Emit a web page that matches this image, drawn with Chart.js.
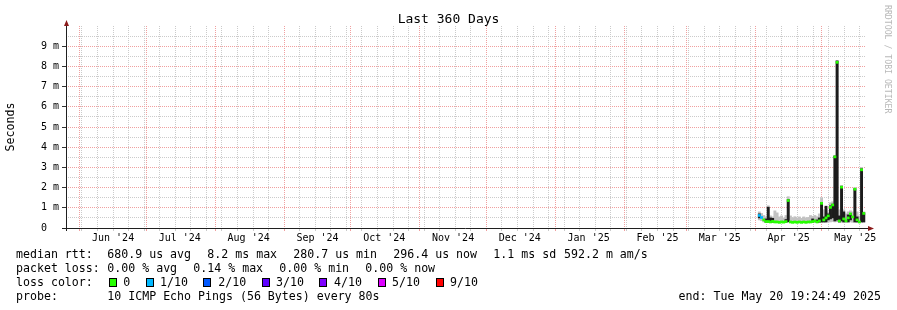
<!DOCTYPE html>
<html>
<head>
<meta charset="utf-8">
<script src="https://cdn.jsdelivr.net/npm/chart.js@4.4.1/dist/chart.umd.min.js"></script>
<style>
  html, body { margin: 0; padding: 0; background: #fff; }
  #wrap { position: relative; width: 897px; height: 310px; overflow: hidden; }
  #graf { position: absolute; left: 0; top: 0; }
  .t { position: absolute; font-family: "DejaVu Sans Mono", monospace; font-size: 11.6px; line-height: 14px; color: #000; white-space: pre; }
  .box { position: absolute; width: 6px; height: 7px; border: 1px solid #000; }
  #wm { position: absolute; left: 883px; top: 5px; writing-mode: vertical-rl; font-family: "DejaVu Sans Mono", monospace; font-size: 8.2px; line-height: 9px; color: #b8b8b8; white-space: pre; }
</style>
</head>
<body>
<div id="wrap">
  <canvas id="graf" width="897" height="310"></canvas>
  <div id="wm">RRDTOOL / TOBI OETIKER</div>
</div>
<script>
// --- datos (días desde el inicio del periodo, valores en ms) ---
const sampleDay = [312, 313, 314, 315, 316, 317, 318, 319, 320, 321, 322, 323, 324, 325, 326, 327,
  328, 329, 330, 331, 332, 333, 334, 335, 336, 337, 338, 339, 340, 341, 342, 343,
  344, 345, 346, 347, 348, 349, 350, 351, 352, 353, 354, 355, 356, 357, 358, 359];
const medianMs = [0.62, 0.52, 0.40, 0.32, 0.32, 0.30, 0.33, 0.30, 0.30, 0.28, 0.30, 0.29, 0.32, 1.36, 0.30, 0.28,
  0.30, 0.28, 0.30, 0.28, 0.30, 0.28, 0.30, 0.30, 0.32, 0.35, 0.30, 0.35, 1.22, 0.40, 0.50, 0.60,
  1.02, 1.14, 3.52, 8.20, 0.35, 2.02, 0.45, 0.35, 0.50, 0.70, 0.55, 1.92, 0.40, 0.30, 2.88, 0.72];
const lossTenths = [1, 1, 0, 0, 0, 0, 0, 0, 0, 0, 0, 0, 0, 0, 0, 0,
  0, 0, 0, 0, 0, 0, 0, 0, 0, 0, 0, 0, 0, 0, 0, 0,
  0, 0, 0, 0, 0, 0, 0, 0, 0, 0, 0, 0, 0, 0, 0, 0];
const smokeMinMs = [0.40, 0.36, 0.30, 0.27, 0.27, 0.27, 0.27, 0.26, 0.26, 0.26, 0.26, 0.26, 0.27, 0.28, 0.26, 0.26,
  0.26, 0.26, 0.26, 0.26, 0.26, 0.26, 0.26, 0.26, 0.27, 0.27, 0.26, 0.27, 0.28, 0.27, 0.28, 0.30,
  0.30, 0.32, 0.30, 0.32, 0.27, 0.28, 0.27, 0.27, 0.28, 0.30, 0.28, 0.28, 0.27, 0.26, 0.28, 0.28];
const smokeMaxMs = [0.80, 0.72, 0.62, 0.55, 1.10, 0.60, 0.55, 0.85, 0.75, 0.55, 0.60, 0.50, 0.62, 1.55, 0.60, 0.50,
  0.56, 0.50, 0.55, 0.48, 0.55, 0.50, 0.52, 0.62, 0.58, 0.62, 0.56, 0.70, 1.50, 0.90, 0.92, 0.80,
  1.25, 1.30, 3.60, 8.30, 0.90, 2.10, 0.90, 0.70, 0.80, 0.85, 0.80, 2.00, 0.80, 0.60, 3.00, 0.80];
const darkMinMs = [0.50, null, null, 0.29, 0.29, 0.28, 0.29, null, null, null, null, null, 0.29, 0.31, null, null,
  null, null, null, null, null, null, null, null, 0.29, null, 0.28, 0.29, 0.30, 0.30, 0.30, 0.40,
  0.45, 0.50, 0.35, 0.40, 0.30, 0.35, 0.30, null, 0.30, 0.40, null, 0.30, 0.30, null, 0.30, 0.30];
const darkMaxMs = [0.70, null, null, 0.45, 1.03, 0.50, 0.48, null, null, null, null, null, 0.42, 1.41, null, null,
  null, null, null, null, null, null, null, null, 0.45, null, 0.40, 0.50, 1.26, 0.55, 1.08, 0.70,
  1.10, 1.18, 3.56, 8.27, 0.60, 2.07, 0.80, null, 0.65, 0.72, null, 1.95, 0.55, null, 2.93, 0.75];

const monthLabels = ["Jun '24", "Jul '24", "Aug '24", "Sep '24", "Oct '24", "Nov '24",
  "Dec '24", "Jan '25", "Feb '25", "Mar '25", "Apr '25", "May '25"];
const lossColors = ['#26ff00', '#00b8ff', '#0059ff', '#5e00ff', '#7e00ff', '#dd00ff', '#ff0000'];
const lossLabels = ['0', '1/10', '2/10', '3/10', '4/10', '5/10', '9/10'];

const FONT = 'DejaVu Sans Mono';
const MGRID = '#f0a0a0';
const GRID = '#cbcbcb';
const MEDIAN_HALF = 0.05;

// periodo: 360 días hasta el "end"
const endMs = Date.UTC(2025, 4, 20, 19, 24, 49);
const startMs = endMs - 360 * 86400000;
const toDay = (t) => (t - startMs) / 86400000;

function buildTimeTicks() {
  const byTime = new Map();
  const add = (t, kind, text) => {
    const prev = byTime.get(t);
    if (prev) {
      if (kind === 'month' || prev.kind === 'label') prev.kind = kind === 'label' ? prev.kind : kind;
      if (text) prev.text = text;
      return;
    }
    byTime.set(t, { value: toDay(t), kind, text });
  };
  for (let i = 0; i < monthLabels.length; i++) add(Date.UTC(2024, 5 + i, 1), 'month');
  // domingos
  for (let t = Date.UTC(2024, 5, 2); t < endMs; t += 7 * 86400000) add(t, 'week');
  // etiquetas a mitad de mes (día 16 a las 00:00)
  monthLabels.forEach((lab, i) => add(Date.UTC(2024, 5 + i, 16), 'label', lab));
  return Array.from(byTime.values()).sort((a, b) => a.value - b.value);
}

const gridColorX = (c) => {
  const k = c.tick && c.tick.kind;
  if (k === 'month') return MGRID;
  if (k === 'week') return GRID;
  return 'rgba(0,0,0,0)';
};
const gridColorY = (c) => {
  const v = c.tick ? c.tick.value : 0;
  if (v >= 10) return 'rgba(0,0,0,0)';
  return Number.isInteger(v) ? MGRID : GRID;
};

const smokeData = sampleDay.map((d, i) => ({ x: d, y: [smokeMinMs[i], smokeMaxMs[i]] }));
const darkData = sampleDay.map((d, i) => ({ x: d, y: darkMaxMs[i] == null ? null : [darkMinMs[i], darkMaxMs[i]] }))
  .filter(p => p.y !== null);
const medianData = sampleDay.map((d, i) => ({ x: d, y: [medianMs[i] - MEDIAN_HALF, medianMs[i] + MEDIAN_HALF] }));

const axisArrows = {
  id: 'axisArrows',
  afterDatasetsDraw(chart) {
    const { ctx, chartArea: { left, right, top, bottom } } = chart;
    ctx.save();
    ctx.strokeStyle = '#1f1f1f';
    ctx.lineWidth = 1;
    ctx.beginPath();
    ctx.moveTo(left + 0.5, bottom + 3);
    ctx.lineTo(left + 0.5, top - 2);
    ctx.moveTo(left - 4, bottom + 0.5);
    ctx.lineTo(right + 3, bottom + 0.5);
    ctx.stroke();
    ctx.fillStyle = '#8b1a1a';
    ctx.beginPath();
    ctx.moveTo(left + 0.5, top - 6);
    ctx.lineTo(left - 2, top);
    ctx.lineTo(left + 3, top);
    ctx.closePath();
    ctx.fill();
    ctx.beginPath();
    ctx.moveTo(right + 8, bottom + 0.5);
    ctx.lineTo(right + 2, bottom - 2);
    ctx.lineTo(right + 2, bottom + 3);
    ctx.closePath();
    ctx.fill();
    ctx.restore();
  }
};

const barCommon = { grouped: false, barPercentage: 1, categoryPercentage: 1, borderWidth: 0, borderSkipped: false };

new Chart(document.getElementById('graf'), {
  type: 'bar',
  data: {
    datasets: [
      Object.assign({ label: 'median', data: medianData, order: 0,
        backgroundColor: (c) => lossColors[lossTenths[c.dataIndex]] || lossColors[0] }, barCommon),
      Object.assign({ label: 'smoke-dark', data: darkData, order: 1, backgroundColor: '#1c1c1c' }, barCommon),
      Object.assign({ label: 'smoke', data: smokeData, order: 2, backgroundColor: '#c2c2c2' }, barCommon)
    ]
  },
  options: {
    responsive: false,
    animation: false,
    devicePixelRatio: 1,
    layout: { padding: 0 },
    scales: {
      x: {
        type: 'linear', position: 'bottom', min: 0, max: 360, offset: false,
        afterBuildTicks: (s) => { s.ticks = buildTimeTicks(); },
        afterFit: (s) => { s.height = 82; },
        grid: { offset: false, color: gridColorX, tickColor: gridColorX, tickLength: 3, lineWidth: 1 },
        border: { display: false, dash: [1, 1] },
        ticks: {
          autoSkip: false, maxRotation: 0, minRotation: 0, padding: 1, color: '#000',
          font: { family: FONT, size: 10 },
          callback: (v, i, ticks) => (ticks[i] && ticks[i].text ? ticks[i].text : '')
        }
      },
      y: {
        type: 'linear', position: 'left', min: 0, max: 10,
        afterFit: (s) => { s.width = 66; },
        grid: { color: gridColorY, tickColor: (c) => (c.tick && Number.isInteger(c.tick.value) && c.tick.value < 10 ? '#333' : 'rgba(0,0,0,0)'), tickLength: 4 },
        border: { display: false, dash: [1, 1] },
        ticks: {
          stepSize: 0.5, autoSkip: false, padding: 3, color: '#000',
          font: { family: FONT, size: 10 },
          callback: (v) => (Number.isInteger(v) && v < 10 ? (v === 0 ? '0  ' : v + ' m') : '')
        },
        title: { display: true, text: 'Seconds', color: '#000', font: { family: FONT, size: 11.6 }, padding: { top: 4, bottom: 0 } }
      },
      pad: {
        type: 'linear', position: 'right', display: true,
        afterFit: (s) => { s.width = 31; },
        grid: { display: false }, border: { display: false }, ticks: { display: false }
      }
    },
    plugins: {
      legend: { display: false },
      tooltip: { enabled: false },
      title: {
        display: true, text: 'Last 360 Days', color: '#000',
        font: { family: FONT, size: 13, weight: 'normal', lineHeight: 1 },
        padding: { top: 13, bottom: 0 }
      }
    }
  },
  plugins: [axisArrows]
});

// --- leyenda de texto (estilo smokeping) ---
const wrap = document.getElementById('wrap');
function txt(s, x, top, right) {
  const el = document.createElement('div');
  el.className = 't';
  el.textContent = s;
  el.style.top = top + 'px';
  if (right) el.style.right = (897 - x) + 'px'; else el.style.left = x + 'px';
  wrap.appendChild(el);
}
const rowTop = [247.3, 261, 275, 289];
txt('median rtt:', 16, rowTop[0]);
txt('680.9 us avg', 107.3, rowTop[0]);
txt('8.2 ms max', 207.3, rowTop[0]);
txt('280.7 us min', 293.3, rowTop[0]);
txt('296.4 us now', 393.3, rowTop[0]);
txt('1.1 ms sd', 493.3, rowTop[0]);
txt('592.2 m am/s', 564, rowTop[0]);
txt('packet loss:', 16, rowTop[1]);
txt('0.00 % avg', 107.3, rowTop[1]);
txt('0.14 % max', 193.3, rowTop[1]);
txt('0.00 % min', 279.3, rowTop[1]);
txt('0.00 % now', 365.3, rowTop[1]);
txt('loss color:', 16, rowTop[2]);
const boxX = [109, 146, 203, 262, 319, 378, 436];
const boxLabelX = [123.3, 160, 218.3, 276, 334, 392, 450];
lossColors.forEach((col, i) => {
  const b = document.createElement('div');
  b.className = 'box';
  b.style.left = boxX[i] + 'px';
  b.style.top = '278px';
  b.style.background = col;
  wrap.appendChild(b);
  txt(lossLabels[i], boxLabelX[i], rowTop[2]);
});
txt('probe:', 16, rowTop[3]);
txt('10 ICMP Echo Pings (56 Bytes) every 80s', 107.3, rowTop[3]);
txt('end: Tue May 20 19:24:49 2025', 881, rowTop[3], true);
</script>
</body>
</html>
